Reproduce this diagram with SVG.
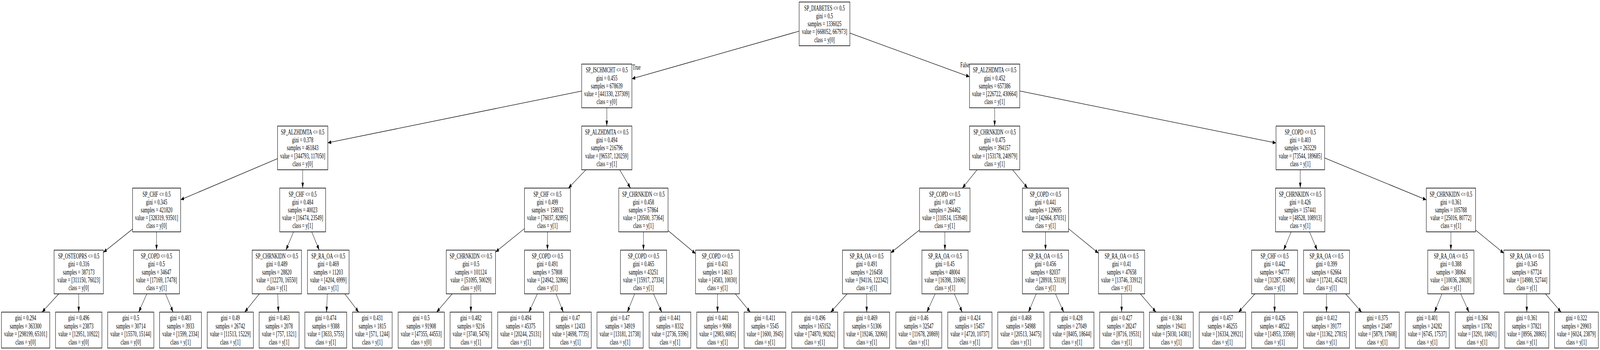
<svg xmlns="http://www.w3.org/2000/svg" width="6687" height="895" viewBox="0 0 6687 895" preserveAspectRatio="none">
<style>
svg{width:100vw;height:100vh;display:block}
.box{fill:#fff;stroke:#000;stroke-width:1.6}
.t{font-family:"Liberation Serif","Times New Roman",serif;font-size:18.2px;text-anchor:middle;fill:#000}
.lbl{font-family:"Liberation Serif","Times New Roman",serif;font-size:18.2px;fill:#000}
.e{stroke:#000;stroke-width:1.3;fill:none;marker-end:url(#arr)}
</style>
<defs>
<marker id="arr" markerUnits="userSpaceOnUse" markerWidth="15" markerHeight="11" refX="14" refY="5" orient="auto"><path d="M0,0 L14,5 L0,10 z" fill="#000"/></marker>
</defs>
<rect x="0" y="0" width="6687" height="895" fill="#fff"/>
<g id="edges">
<path class="e" d="M3340,79.6 L2641,201.4"/>
<path class="e" d="M3552,84.7 L4052,196.3"/>
<path class="e" d="M2431,232.8 L1370,365.2"/>
<path class="e" d="M2536,275.6 L2536,322.4"/>
<path class="e" d="M4157,275.6 L4157,322.4"/>
<path class="e" d="M4262,232.7 L5333,365.7"/>
<path class="e" d="M1160,405.6 L755,510.8"/>
<path class="e" d="M1265,434.2 L1265,481"/>
<path class="e" d="M2448.6,434.2 L2375.4,481"/>
<path class="e" d="M2589.9,434.2 L2635.1,481"/>
<path class="e" d="M4083.5,434.2 L4022,481"/>
<path class="e" d="M4231.9,434.2 L4294.6,481"/>
<path class="e" d="M5434.3,434.2 L5434.2,481"/>
<path class="e" d="M5536,403.9 L5961,511"/>
<path class="e" d="M554,585.9 L432,645.3"/>
<path class="e" d="M654.3,592.8 L654.2,639.6"/>
<path class="e" d="M1226.9,592.8 L1195.1,639.6"/>
<path class="e" d="M1302.7,592.8 L1334.3,639.6"/>
<path class="e" d="M2192,584.5 L2071,644.5"/>
<path class="e" d="M2288,592.8 L2288,639.6"/>
<path class="e" d="M2689.2,592.8 L2689.3,639.6"/>
<path class="e" d="M2792,589.7 L2907,648.6"/>
<path class="e" d="M3843,588.1 L3723,646.4"/>
<path class="e" d="M3948.9,592.8 L3949.1,639.6"/>
<path class="e" d="M4369.5,592.8 L4369.5,639.6"/>
<path class="e" d="M4466,585 L4591,647.4"/>
<path class="e" d="M5396.3,592.8 L5364.7,639.6"/>
<path class="e" d="M5472.8,592.8 L5505.2,639.6"/>
<path class="e" d="M6063.8,592.8 L6063.7,639.6"/>
<path class="e" d="M6167,588.4 L6285,647.5"/>
<path class="e" d="M245.5,751.4 L175.6,798.2"/>
<path class="e" d="M329,751.4 L329,798.2"/>
<path class="e" d="M613.6,751.4 L579.7,798.2"/>
<path class="e" d="M691.8,751.4 L723.5,798.2"/>
<path class="e" d="M1083.8,751.4 L1022.6,798.2"/>
<path class="e" d="M1160.6,751.4 L1163.6,798.2"/>
<path class="e" d="M1368.1,751.4 L1364.7,798.2"/>
<path class="e" d="M1441.2,751.4 L1499.2,798.2"/>
<path class="e" d="M1889.9,751.4 L1824.6,798.2"/>
<path class="e" d="M1968,751.4 L1968,798.2"/>
<path class="e" d="M2245.9,751.4 L2210.6,798.2"/>
<path class="e" d="M2324.1,751.4 L2354.3,798.2"/>
<path class="e" d="M2652.6,751.4 L2621.8,798.2"/>
<path class="e" d="M2731.1,751.4 L2765.9,798.2"/>
<path class="e" d="M2998.7,751.4 L2998.8,798.2"/>
<path class="e" d="M3073.2,751.4 L3135.7,798.2"/>
<path class="e" d="M3540.4,751.4 L3472,798.2"/>
<path class="e" d="M3622.2,751.4 L3622.3,798.2"/>
<path class="e" d="M3908.3,751.4 L3873.8,798.2"/>
<path class="e" d="M3988.6,751.4 L4021.4,798.2"/>
<path class="e" d="M4330.8,751.4 L4298.3,798.2"/>
<path class="e" d="M4411.1,751.4 L4445.9,798.2"/>
<path class="e" d="M4687.7,751.4 L4687.8,798.2"/>
<path class="e" d="M4765.7,751.4 L4831.3,798.2"/>
<path class="e" d="M5245,751.4 L5176.3,798.2"/>
<path class="e" d="M5327,751.4 L5327,798.2"/>
<path class="e" d="M5544,751.4 L5544,798.2"/>
<path class="e" d="M5623.9,751.4 L5690.9,798.2"/>
<path class="e" d="M6026.4,751.4 L5995.4,798.2"/>
<path class="e" d="M6104.9,751.4 L6139.5,798.2"/>
<path class="e" d="M6381,751.4 L6381,798.2"/>
<path class="e" d="M6459.1,751.4 L6524.4,798.2"/>
<text class="lbl" x="2643.5" y="178">True</text>
<text class="lbl" x="4013.5" y="172">False</text>
</g>
<g id="n0" transform="translate(3340,5.2)"><rect class="box" width="212" height="111.8"/><text class="t" y="21.6"><tspan x="106">SP_DIABETES &lt;= 0.5</tspan><tspan x="106" dy="20.2">gini = 0.5</tspan><tspan x="106" dy="20.2">samples = 1336025</tspan><tspan x="106" dy="20.2">value = [668052, 667973]</tspan><tspan x="106" dy="20.2">class = y[0]</tspan></text></g>
<g id="n1" transform="translate(2431,163.8)"><rect class="box" width="210" height="111.8"/><text class="t" y="21.6"><tspan x="105">SP_ISCHMCHT &lt;= 0.5</tspan><tspan x="105" dy="20.2">gini = 0.455</tspan><tspan x="105" dy="20.2">samples = 678639</tspan><tspan x="105" dy="20.2">value = [441330, 237309]</tspan><tspan x="105" dy="20.2">class = y[0]</tspan></text></g>
<g id="n2" transform="translate(4052,163.8)"><rect class="box" width="210" height="111.8"/><text class="t" y="21.6"><tspan x="105">SP_ALZHDMTA &lt;= 0.5</tspan><tspan x="105" dy="20.2">gini = 0.452</tspan><tspan x="105" dy="20.2">samples = 657386</tspan><tspan x="105" dy="20.2">value = [226722, 430664]</tspan><tspan x="105" dy="20.2">class = y[1]</tspan></text></g>
<g id="n3" transform="translate(1160,322.4)"><rect class="box" width="210" height="111.8"/><text class="t" y="21.6"><tspan x="105">SP_ALZHDMTA &lt;= 0.5</tspan><tspan x="105" dy="20.2">gini = 0.378</tspan><tspan x="105" dy="20.2">samples = 461843</tspan><tspan x="105" dy="20.2">value = [344793, 117050]</tspan><tspan x="105" dy="20.2">class = y[0]</tspan></text></g>
<g id="n4" transform="translate(2431,322.4)"><rect class="box" width="210" height="111.8"/><text class="t" y="21.6"><tspan x="105">SP_ALZHDMTA &lt;= 0.5</tspan><tspan x="105" dy="20.2">gini = 0.494</tspan><tspan x="105" dy="20.2">samples = 216796</tspan><tspan x="105" dy="20.2">value = [96537, 120259]</tspan><tspan x="105" dy="20.2">class = y[1]</tspan></text></g>
<g id="n5" transform="translate(4052,322.4)"><rect class="box" width="210" height="111.8"/><text class="t" y="21.6"><tspan x="105">SP_CHRNKIDN &lt;= 0.5</tspan><tspan x="105" dy="20.2">gini = 0.475</tspan><tspan x="105" dy="20.2">samples = 394157</tspan><tspan x="105" dy="20.2">value = [153178, 240979]</tspan><tspan x="105" dy="20.2">class = y[1]</tspan></text></g>
<g id="n6" transform="translate(5333,322.4)"><rect class="box" width="203" height="111.8"/><text class="t" y="21.6"><tspan x="101.5">SP_COPD &lt;= 0.5</tspan><tspan x="101.5" dy="20.2">gini = 0.403</tspan><tspan x="101.5" dy="20.2">samples = 263229</tspan><tspan x="101.5" dy="20.2">value = [73544, 189685]</tspan><tspan x="101.5" dy="20.2">class = y[1]</tspan></text></g>
<g id="n7" transform="translate(554,481)"><rect class="box" width="201" height="111.8"/><text class="t" y="21.6"><tspan x="100.5">SP_CHF &lt;= 0.5</tspan><tspan x="100.5" dy="20.2">gini = 0.345</tspan><tspan x="100.5" dy="20.2">samples = 421820</tspan><tspan x="100.5" dy="20.2">value = [328319, 93501]</tspan><tspan x="100.5" dy="20.2">class = y[0]</tspan></text></g>
<g id="n8" transform="translate(1169,481)"><rect class="box" width="192" height="111.8"/><text class="t" y="21.6"><tspan x="96">SP_CHF &lt;= 0.5</tspan><tspan x="96" dy="20.2">gini = 0.484</tspan><tspan x="96" dy="20.2">samples = 40023</tspan><tspan x="96" dy="20.2">value = [16474, 23549]</tspan><tspan x="96" dy="20.2">class = y[1]</tspan></text></g>
<g id="n9" transform="translate(2192,481)"><rect class="box" width="192" height="111.8"/><text class="t" y="21.6"><tspan x="96">SP_CHF &lt;= 0.5</tspan><tspan x="96" dy="20.2">gini = 0.499</tspan><tspan x="96" dy="20.2">samples = 158932</tspan><tspan x="96" dy="20.2">value = [76037, 82895]</tspan><tspan x="96" dy="20.2">class = y[1]</tspan></text></g>
<g id="n10" transform="translate(2586,481)"><rect class="box" width="206" height="111.8"/><text class="t" y="21.6"><tspan x="103">SP_CHRNKIDN &lt;= 0.5</tspan><tspan x="103" dy="20.2">gini = 0.458</tspan><tspan x="103" dy="20.2">samples = 57864</tspan><tspan x="103" dy="20.2">value = [20500, 37364]</tspan><tspan x="103" dy="20.2">class = y[1]</tspan></text></g>
<g id="n11" transform="translate(3843,481)"><rect class="box" width="211" height="111.8"/><text class="t" y="21.6"><tspan x="105.5">SP_COPD &lt;= 0.5</tspan><tspan x="105.5" dy="20.2">gini = 0.487</tspan><tspan x="105.5" dy="20.2">samples = 264462</tspan><tspan x="105.5" dy="20.2">value = [110514, 153948]</tspan><tspan x="105.5" dy="20.2">class = y[1]</tspan></text></g>
<g id="n12" transform="translate(4273,481)"><rect class="box" width="193" height="111.8"/><text class="t" y="21.6"><tspan x="96.5">SP_COPD &lt;= 0.5</tspan><tspan x="96.5" dy="20.2">gini = 0.441</tspan><tspan x="96.5" dy="20.2">samples = 129695</tspan><tspan x="96.5" dy="20.2">value = [42664, 87031]</tspan><tspan x="96.5" dy="20.2">class = y[1]</tspan></text></g>
<g id="n13" transform="translate(5331,481)"><rect class="box" width="206" height="111.8"/><text class="t" y="21.6"><tspan x="103">SP_CHRNKIDN &lt;= 0.5</tspan><tspan x="103" dy="20.2">gini = 0.426</tspan><tspan x="103" dy="20.2">samples = 157441</tspan><tspan x="103" dy="20.2">value = [48528, 108913]</tspan><tspan x="103" dy="20.2">class = y[1]</tspan></text></g>
<g id="n14" transform="translate(5961,481)"><rect class="box" width="206" height="111.8"/><text class="t" y="21.6"><tspan x="103">SP_CHRNKIDN &lt;= 0.5</tspan><tspan x="103" dy="20.2">gini = 0.361</tspan><tspan x="103" dy="20.2">samples = 105788</tspan><tspan x="103" dy="20.2">value = [25016, 80772]</tspan><tspan x="103" dy="20.2">class = y[1]</tspan></text></g>
<g id="n15" transform="translate(226,639.6)"><rect class="box" width="206" height="111.8"/><text class="t" y="21.6"><tspan x="103">SP_OSTEOPRS &lt;= 0.5</tspan><tspan x="103" dy="20.2">gini = 0.316</tspan><tspan x="103" dy="20.2">samples = 387173</tspan><tspan x="103" dy="20.2">value = [311150, 76023]</tspan><tspan x="103" dy="20.2">class = y[0]</tspan></text></g>
<g id="n16" transform="translate(558,639.6)"><rect class="box" width="192" height="111.8"/><text class="t" y="21.6"><tspan x="96">SP_COPD &lt;= 0.5</tspan><tspan x="96" dy="20.2">gini = 0.5</tspan><tspan x="96" dy="20.2">samples = 34647</tspan><tspan x="96" dy="20.2">value = [17169, 17478]</tspan><tspan x="96" dy="20.2">class = y[1]</tspan></text></g>
<g id="n17" transform="translate(1054,639.6)"><rect class="box" width="206" height="111.8"/><text class="t" y="21.6"><tspan x="103">SP_CHRNKIDN &lt;= 0.5</tspan><tspan x="103" dy="20.2">gini = 0.489</tspan><tspan x="103" dy="20.2">samples = 28820</tspan><tspan x="103" dy="20.2">value = [12270, 16550]</tspan><tspan x="103" dy="20.2">class = y[1]</tspan></text></g>
<g id="n18" transform="translate(1285,639.6)"><rect class="box" width="174" height="111.8"/><text class="t" y="21.6"><tspan x="87">SP_RA_OA &lt;= 0.5</tspan><tspan x="87" dy="20.2">gini = 0.469</tspan><tspan x="87" dy="20.2">samples = 11203</tspan><tspan x="87" dy="20.2">value = [4204, 6999]</tspan><tspan x="87" dy="20.2">class = y[1]</tspan></text></g>
<g id="n19" transform="translate(1865,639.6)"><rect class="box" width="206" height="111.8"/><text class="t" y="21.6"><tspan x="103">SP_CHRNKIDN &lt;= 0.5</tspan><tspan x="103" dy="20.2">gini = 0.5</tspan><tspan x="103" dy="20.2">samples = 101124</tspan><tspan x="103" dy="20.2">value = [51095, 50029]</tspan><tspan x="103" dy="20.2">class = y[0]</tspan></text></g>
<g id="n20" transform="translate(2192,639.6)"><rect class="box" width="192" height="111.8"/><text class="t" y="21.6"><tspan x="96">SP_COPD &lt;= 0.5</tspan><tspan x="96" dy="20.2">gini = 0.491</tspan><tspan x="96" dy="20.2">samples = 57808</tspan><tspan x="96" dy="20.2">value = [24942, 32866]</tspan><tspan x="96" dy="20.2">class = y[1]</tspan></text></g>
<g id="n21" transform="translate(2593,639.6)"><rect class="box" width="193" height="111.8"/><text class="t" y="21.6"><tspan x="96.5">SP_COPD &lt;= 0.5</tspan><tspan x="96.5" dy="20.2">gini = 0.465</tspan><tspan x="96.5" dy="20.2">samples = 43251</tspan><tspan x="96.5" dy="20.2">value = [15917, 27334]</tspan><tspan x="96.5" dy="20.2">class = y[1]</tspan></text></g>
<g id="n22" transform="translate(2907,639.6)"><rect class="box" width="183" height="111.8"/><text class="t" y="21.6"><tspan x="91.5">SP_COPD &lt;= 0.5</tspan><tspan x="91.5" dy="20.2">gini = 0.431</tspan><tspan x="91.5" dy="20.2">samples = 14613</tspan><tspan x="91.5" dy="20.2">value = [4583, 10030]</tspan><tspan x="91.5" dy="20.2">class = y[1]</tspan></text></g>
<g id="n23" transform="translate(3521,639.6)"><rect class="box" width="202" height="111.8"/><text class="t" y="21.6"><tspan x="101">SP_RA_OA &lt;= 0.5</tspan><tspan x="101" dy="20.2">gini = 0.491</tspan><tspan x="101" dy="20.2">samples = 216458</tspan><tspan x="101" dy="20.2">value = [94116, 122342]</tspan><tspan x="101" dy="20.2">class = y[1]</tspan></text></g>
<g id="n24" transform="translate(3853,639.6)"><rect class="box" width="193" height="111.8"/><text class="t" y="21.6"><tspan x="96.5">SP_RA_OA &lt;= 0.5</tspan><tspan x="96.5" dy="20.2">gini = 0.45</tspan><tspan x="96.5" dy="20.2">samples = 48004</tspan><tspan x="96.5" dy="20.2">value = [16398, 31606]</tspan><tspan x="96.5" dy="20.2">class = y[1]</tspan></text></g>
<g id="n25" transform="translate(4273,639.6)"><rect class="box" width="193" height="111.8"/><text class="t" y="21.6"><tspan x="96.5">SP_RA_OA &lt;= 0.5</tspan><tspan x="96.5" dy="20.2">gini = 0.456</tspan><tspan x="96.5" dy="20.2">samples = 82037</tspan><tspan x="96.5" dy="20.2">value = [28918, 53119]</tspan><tspan x="96.5" dy="20.2">class = y[1]</tspan></text></g>
<g id="n26" transform="translate(4591,639.6)"><rect class="box" width="193" height="111.8"/><text class="t" y="21.6"><tspan x="96.5">SP_RA_OA &lt;= 0.5</tspan><tspan x="96.5" dy="20.2">gini = 0.41</tspan><tspan x="96.5" dy="20.2">samples = 47658</tspan><tspan x="96.5" dy="20.2">value = [13746, 33912]</tspan><tspan x="96.5" dy="20.2">class = y[1]</tspan></text></g>
<g id="n27" transform="translate(5231,639.6)"><rect class="box" width="192" height="111.8"/><text class="t" y="21.6"><tspan x="96">SP_CHF &lt;= 0.5</tspan><tspan x="96" dy="20.2">gini = 0.442</tspan><tspan x="96" dy="20.2">samples = 94777</tspan><tspan x="96" dy="20.2">value = [31287, 63490]</tspan><tspan x="96" dy="20.2">class = y[1]</tspan></text></g>
<g id="n28" transform="translate(5448,639.6)"><rect class="box" width="192" height="111.8"/><text class="t" y="21.6"><tspan x="96">SP_RA_OA &lt;= 0.5</tspan><tspan x="96" dy="20.2">gini = 0.399</tspan><tspan x="96" dy="20.2">samples = 62664</tspan><tspan x="96" dy="20.2">value = [17241, 45423]</tspan><tspan x="96" dy="20.2">class = y[1]</tspan></text></g>
<g id="n29" transform="translate(5967,639.6)"><rect class="box" width="193" height="111.8"/><text class="t" y="21.6"><tspan x="96.5">SP_RA_OA &lt;= 0.5</tspan><tspan x="96.5" dy="20.2">gini = 0.388</tspan><tspan x="96.5" dy="20.2">samples = 38064</tspan><tspan x="96.5" dy="20.2">value = [10036, 28028]</tspan><tspan x="96.5" dy="20.2">class = y[1]</tspan></text></g>
<g id="n30" transform="translate(6285,639.6)"><rect class="box" width="192" height="111.8"/><text class="t" y="21.6"><tspan x="96">SP_RA_OA &lt;= 0.5</tspan><tspan x="96" dy="20.2">gini = 0.345</tspan><tspan x="96" dy="20.2">samples = 67724</tspan><tspan x="96" dy="20.2">value = [14980, 52744]</tspan><tspan x="96" dy="20.2">class = y[1]</tspan></text></g>
<g id="l1" transform="translate(6,798.2)"><rect class="box" width="202" height="91.8"/><text class="t" y="20.6"><tspan x="101">gini = 0.294</tspan><tspan x="101" dy="20.8">samples = 363300</tspan><tspan x="101" dy="20.8">value = [298199, 65101]</tspan><tspan x="101" dy="20.8">class = y[0]</tspan></text></g>
<g id="l2" transform="translate(232,798.2)"><rect class="box" width="194" height="91.8"/><text class="t" y="20.6"><tspan x="97">gini = 0.496</tspan><tspan x="97" dy="20.8">samples = 23873</tspan><tspan x="97" dy="20.8">value = [12951, 10922]</tspan><tspan x="97" dy="20.8">class = y[0]</tspan></text></g>
<g id="l3" transform="translate(450,798.2)"><rect class="box" width="193" height="91.8"/><text class="t" y="20.6"><tspan x="96.5">gini = 0.5</tspan><tspan x="96.5" dy="20.8">samples = 30714</tspan><tspan x="96.5" dy="20.8">value = [15570, 15144]</tspan><tspan x="96.5" dy="20.8">class = y[0]</tspan></text></g>
<g id="l4" transform="translate(667,798.2)"><rect class="box" width="175" height="91.8"/><text class="t" y="20.6"><tspan x="87.5">gini = 0.483</tspan><tspan x="87.5" dy="20.8">samples = 3933</tspan><tspan x="87.5" dy="20.8">value = [1599, 2334]</tspan><tspan x="87.5" dy="20.8">class = y[1]</tspan></text></g>
<g id="l5" transform="translate(866,798.2)"><rect class="box" width="193" height="91.8"/><text class="t" y="20.6"><tspan x="96.5">gini = 0.49</tspan><tspan x="96.5" dy="20.8">samples = 26742</tspan><tspan x="96.5" dy="20.8">value = [11513, 15229]</tspan><tspan x="96.5" dy="20.8">class = y[1]</tspan></text></g>
<g id="l6" transform="translate(1083,798.2)"><rect class="box" width="167" height="91.8"/><text class="t" y="20.6"><tspan x="83.5">gini = 0.463</tspan><tspan x="83.5" dy="20.8">samples = 2078</tspan><tspan x="83.5" dy="20.8">value = [757, 1321]</tspan><tspan x="83.5" dy="20.8">class = y[1]</tspan></text></g>
<g id="l7" transform="translate(1274,798.2)"><rect class="box" width="175" height="91.8"/><text class="t" y="20.6"><tspan x="87.5">gini = 0.474</tspan><tspan x="87.5" dy="20.8">samples = 9388</tspan><tspan x="87.5" dy="20.8">value = [3633, 5755]</tspan><tspan x="87.5" dy="20.8">class = y[1]</tspan></text></g>
<g id="l8" transform="translate(1473,798.2)"><rect class="box" width="166" height="91.8"/><text class="t" y="20.6"><tspan x="83">gini = 0.431</tspan><tspan x="83" dy="20.8">samples = 1815</tspan><tspan x="83" dy="20.8">value = [571, 1244]</tspan><tspan x="83" dy="20.8">class = y[1]</tspan></text></g>
<g id="l9" transform="translate(1664,798.2)"><rect class="box" width="193" height="91.8"/><text class="t" y="20.6"><tspan x="96.5">gini = 0.5</tspan><tspan x="96.5" dy="20.8">samples = 91908</tspan><tspan x="96.5" dy="20.8">value = [47355, 44553]</tspan><tspan x="96.5" dy="20.8">class = y[0]</tspan></text></g>
<g id="l10" transform="translate(1881,798.2)"><rect class="box" width="174" height="91.8"/><text class="t" y="20.6"><tspan x="87">gini = 0.482</tspan><tspan x="87" dy="20.8">samples = 9216</tspan><tspan x="87" dy="20.8">value = [3740, 5476]</tspan><tspan x="87" dy="20.8">class = y[1]</tspan></text></g>
<g id="l11" transform="translate(2080,798.2)"><rect class="box" width="192" height="91.8"/><text class="t" y="20.6"><tspan x="96">gini = 0.494</tspan><tspan x="96" dy="20.8">samples = 45375</tspan><tspan x="96" dy="20.8">value = [20244, 25131]</tspan><tspan x="96" dy="20.8">class = y[1]</tspan></text></g>
<g id="l12" transform="translate(2297,798.2)"><rect class="box" width="174" height="91.8"/><text class="t" y="20.6"><tspan x="87">gini = 0.47</tspan><tspan x="87" dy="20.8">samples = 12433</tspan><tspan x="87" dy="20.8">value = [4698, 7735]</tspan><tspan x="87" dy="20.8">class = y[1]</tspan></text></g>
<g id="l13" transform="translate(2495,798.2)"><rect class="box" width="193" height="91.8"/><text class="t" y="20.6"><tspan x="96.5">gini = 0.47</tspan><tspan x="96.5" dy="20.8">samples = 34919</tspan><tspan x="96.5" dy="20.8">value = [13181, 21738]</tspan><tspan x="96.5" dy="20.8">class = y[1]</tspan></text></g>
<g id="l14" transform="translate(2713,798.2)"><rect class="box" width="174" height="91.8"/><text class="t" y="20.6"><tspan x="87">gini = 0.441</tspan><tspan x="87" dy="20.8">samples = 8332</tspan><tspan x="87" dy="20.8">value = [2736, 5596]</tspan><tspan x="87" dy="20.8">class = y[1]</tspan></text></g>
<g id="l15" transform="translate(2912,798.2)"><rect class="box" width="174" height="91.8"/><text class="t" y="20.6"><tspan x="87">gini = 0.441</tspan><tspan x="87" dy="20.8">samples = 9068</tspan><tspan x="87" dy="20.8">value = [2983, 6085]</tspan><tspan x="87" dy="20.8">class = y[1]</tspan></text></g>
<g id="l16" transform="translate(3110,798.2)"><rect class="box" width="174" height="91.8"/><text class="t" y="20.6"><tspan x="87">gini = 0.411</tspan><tspan x="87" dy="20.8">samples = 5545</tspan><tspan x="87" dy="20.8">value = [1600, 3945]</tspan><tspan x="87" dy="20.8">class = y[1]</tspan></text></g>
<g id="l17" transform="translate(3309,798.2)"><rect class="box" width="192" height="91.8"/><text class="t" y="20.6"><tspan x="96">gini = 0.496</tspan><tspan x="96" dy="20.8">samples = 165152</tspan><tspan x="96" dy="20.8">value = [74870, 90282]</tspan><tspan x="96" dy="20.8">class = y[1]</tspan></text></g>
<g id="l18" transform="translate(3527,798.2)"><rect class="box" width="191" height="91.8"/><text class="t" y="20.6"><tspan x="95.5">gini = 0.469</tspan><tspan x="95.5" dy="20.8">samples = 51306</tspan><tspan x="95.5" dy="20.8">value = [19246, 32060]</tspan><tspan x="95.5" dy="20.8">class = y[1]</tspan></text></g>
<g id="l19" transform="translate(3744,798.2)"><rect class="box" width="192" height="91.8"/><text class="t" y="20.6"><tspan x="96">gini = 0.46</tspan><tspan x="96" dy="20.8">samples = 32547</tspan><tspan x="96" dy="20.8">value = [11678, 20869]</tspan><tspan x="96" dy="20.8">class = y[1]</tspan></text></g>
<g id="l20" transform="translate(3961,798.2)"><rect class="box" width="185" height="91.8"/><text class="t" y="20.6"><tspan x="92.5">gini = 0.424</tspan><tspan x="92.5" dy="20.8">samples = 15457</tspan><tspan x="92.5" dy="20.8">value = [4720, 10737]</tspan><tspan x="92.5" dy="20.8">class = y[1]</tspan></text></g>
<g id="l21" transform="translate(4170,798.2)"><rect class="box" width="193" height="91.8"/><text class="t" y="20.6"><tspan x="96.5">gini = 0.468</tspan><tspan x="96.5" dy="20.8">samples = 54988</tspan><tspan x="96.5" dy="20.8">value = [20513, 34475]</tspan><tspan x="96.5" dy="20.8">class = y[1]</tspan></text></g>
<g id="l22" transform="translate(4388,798.2)"><rect class="box" width="184" height="91.8"/><text class="t" y="20.6"><tspan x="92">gini = 0.428</tspan><tspan x="92" dy="20.8">samples = 27049</tspan><tspan x="92" dy="20.8">value = [8405, 18644]</tspan><tspan x="92" dy="20.8">class = y[1]</tspan></text></g>
<g id="l23" transform="translate(4596,798.2)"><rect class="box" width="184" height="91.8"/><text class="t" y="20.6"><tspan x="92">gini = 0.427</tspan><tspan x="92" dy="20.8">samples = 28247</tspan><tspan x="92" dy="20.8">value = [8716, 19531]</tspan><tspan x="92" dy="20.8">class = y[1]</tspan></text></g>
<g id="l24" transform="translate(4804,798.2)"><rect class="box" width="183" height="91.8"/><text class="t" y="20.6"><tspan x="91.5">gini = 0.384</tspan><tspan x="91.5" dy="20.8">samples = 19411</tspan><tspan x="91.5" dy="20.8">value = [5030, 14381]</tspan><tspan x="91.5" dy="20.8">class = y[1]</tspan></text></g>
<g id="l25" transform="translate(5012,798.2)"><rect class="box" width="194" height="91.8"/><text class="t" y="20.6"><tspan x="97">gini = 0.457</tspan><tspan x="97" dy="20.8">samples = 46255</tspan><tspan x="97" dy="20.8">value = [16334, 29921]</tspan><tspan x="97" dy="20.8">class = y[1]</tspan></text></g>
<g id="l26" transform="translate(5231,798.2)"><rect class="box" width="192" height="91.8"/><text class="t" y="20.6"><tspan x="96">gini = 0.426</tspan><tspan x="96" dy="20.8">samples = 48522</tspan><tspan x="96" dy="20.8">value = [14953, 33569]</tspan><tspan x="96" dy="20.8">class = y[1]</tspan></text></g>
<g id="l27" transform="translate(5448,798.2)"><rect class="box" width="192" height="91.8"/><text class="t" y="20.6"><tspan x="96">gini = 0.412</tspan><tspan x="96" dy="20.8">samples = 39177</tspan><tspan x="96" dy="20.8">value = [11362, 27815]</tspan><tspan x="96" dy="20.8">class = y[1]</tspan></text></g>
<g id="l28" transform="translate(5665,798.2)"><rect class="box" width="183" height="91.8"/><text class="t" y="20.6"><tspan x="91.5">gini = 0.375</tspan><tspan x="91.5" dy="20.8">samples = 23487</tspan><tspan x="91.5" dy="20.8">value = [5879, 17608]</tspan><tspan x="91.5" dy="20.8">class = y[1]</tspan></text></g>
<g id="l29" transform="translate(5873,798.2)"><rect class="box" width="184" height="91.8"/><text class="t" y="20.6"><tspan x="92">gini = 0.401</tspan><tspan x="92" dy="20.8">samples = 24282</tspan><tspan x="92" dy="20.8">value = [6745, 17537]</tspan><tspan x="92" dy="20.8">class = y[1]</tspan></text></g>
<g id="l30" transform="translate(6082,798.2)"><rect class="box" width="183" height="91.8"/><text class="t" y="20.6"><tspan x="91.5">gini = 0.364</tspan><tspan x="91.5" dy="20.8">samples = 13782</tspan><tspan x="91.5" dy="20.8">value = [3291, 10491]</tspan><tspan x="91.5" dy="20.8">class = y[1]</tspan></text></g>
<g id="l31" transform="translate(6289,798.2)"><rect class="box" width="184" height="91.8"/><text class="t" y="20.6"><tspan x="92">gini = 0.361</tspan><tspan x="92" dy="20.8">samples = 37821</tspan><tspan x="92" dy="20.8">value = [8956, 28865]</tspan><tspan x="92" dy="20.8">class = y[1]</tspan></text></g>
<g id="l32" transform="translate(6497,798.2)"><rect class="box" width="183" height="91.8"/><text class="t" y="20.6"><tspan x="91.5">gini = 0.322</tspan><tspan x="91.5" dy="20.8">samples = 29903</tspan><tspan x="91.5" dy="20.8">value = [6024, 23879]</tspan><tspan x="91.5" dy="20.8">class = y[1]</tspan></text></g>
</svg>
